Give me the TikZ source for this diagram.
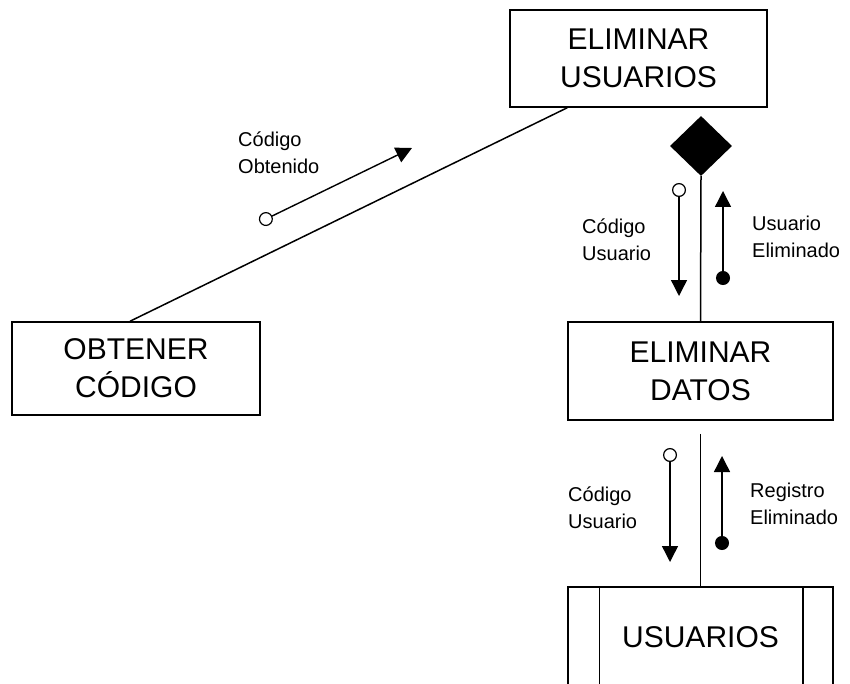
\documentclass[tikz,border=0pt]{standalone}
\usepackage{fontspec}
\setmainfont{Liberation Sans}
\usetikzlibrary{arrows.meta,shapes.geometric}
\tikzset{
  modbox/.style={draw=black,line width=1.5pt,align=center,inner sep=2pt,
    font=\fontsize{30}{38}\selectfont},
  enlace/.style={line width=1.5pt},
  cupdato/.style={{Circle[open,length=14pt,width=14pt,line width=1.2pt]}-{Triangle[length=16pt,width=16pt]},
    line width=1.4pt},
  cupctrl/.style={{Circle[length=14pt,width=14pt]}-{Triangle[length=16pt,width=16pt]},
    line width=1.4pt},
  cuplbl/.style={anchor=west,align=left,inner sep=0pt,
    font=\fontsize{20}{27}\selectfont},
}

\begin{document}
\begin{tikzpicture}[x=1pt,y=-1pt,
    rombo/.style={diamond,fill=black,minimum width=62pt,minimum height=60pt,inner sep=0pt}]
  \useasboundingbox (0,0) rectangle (850,684);
  % ---- modulos ----
  \node[modbox,minimum width=257pt,minimum height=97pt] (elimusr) at (638.5,58.5) {ELIMINAR\\USUARIOS};
  \node[modbox,minimum width=248pt,minimum height=93pt] (obtcod) at (136,368.5) {OBTENER\\CÓDIGO};
  \node[modbox,minimum width=265pt,minimum height=98pt] (elimdat) at (700.5,371) {ELIMINAR\\DATOS};
  \node[modbox,minimum width=265pt,minimum height=100pt] (usr) at (700.5,637) {USUARIOS};
  \draw[enlace] ([xshift=32pt]usr.north west) -- ([xshift=32pt]usr.south west)
    ([xshift=-31pt]usr.north east) -- ([xshift=-31pt]usr.south east);
  \node[rombo] (iter) at (701,146) {};
  % ---- conexiones ----
  \draw[enlace] ([xshift=-6pt]obtcod.north) -- ([xshift=58pt]elimusr.south west);
  \draw[enlace] (iter.south) -- (elimdat.north);
  \draw[enlace] ([yshift=-13pt]elimdat.south) -- (usr.north);
  % ---- cuplas: obtener codigo ----
  \coordinate (co1) at (259.6,222.1);
  \coordinate (co2) at (412,148);
  \draw[cupdato] (co1) -- (co2);
  \node[cuplbl] (lco) at (238,153) {Código\\Obtenido};
  % ---- cuplas: eliminar datos ----
  \coordinate (cu1) at (679,183);
  \coordinate (cu2) at (679,296);
  \coordinate (ue1) at (723,285);
  \coordinate (ue2) at (723,191);
  \draw[cupdato] (cu1) -- (cu2);
  \draw[cupctrl] (ue1) -- (ue2);
  \node[cuplbl] (lcu) at (582,240) {Código\\Usuario};
  \node[cuplbl] (lue) at (752,237) {Usuario\\Eliminado};
  % ---- cuplas: usuarios ----
  \coordinate (cu3) at (670,448);
  \coordinate (cu4) at (670,562);
  \coordinate (re1) at (722,550);
  \coordinate (re2) at (722,456);
  \draw[cupdato] (cu3) -- (cu4);
  \draw[cupctrl] (re1) -- (re2);
  \node[cuplbl] (lcu2) at (568,508) {Código\\Usuario};
  \node[cuplbl] (lre) at (750,504) {Registro\\Eliminado};
\end{tikzpicture}
\end{document}
